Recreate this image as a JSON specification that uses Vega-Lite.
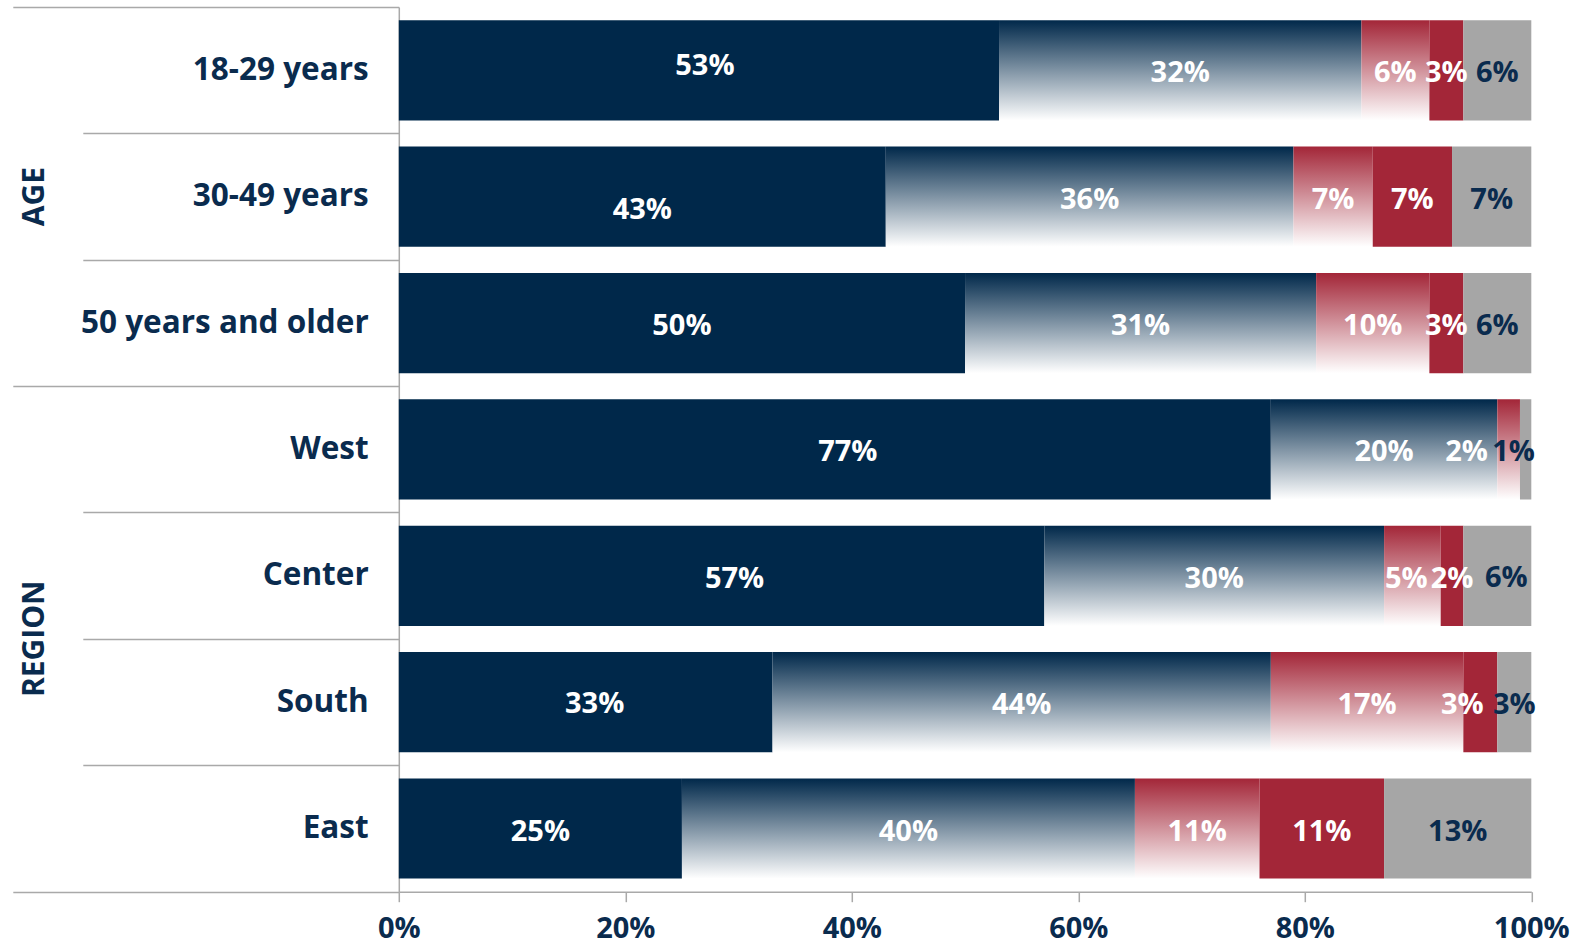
{
  "$schema": "https://vega.github.io/schema/vega-lite/v6.json",
  "width": 1132.5,
  "height": 884.6,
  "autosize": {"type": "none"},
  "padding": {"left": 398.8, "top": 7.1, "right": 55.7, "bottom": 55.3},
  "background": "white",
  "config": {"view": {"stroke": null}, "font": "Open Sans"},
  "datasets": {
    "main": [
      {"group": "18-29 years", "cat": "A", "value": 0.53},
      {"group": "18-29 years", "cat": "B", "value": 0.32},
      {"group": "18-29 years", "cat": "C", "value": 0.06},
      {"group": "18-29 years", "cat": "D", "value": 0.03},
      {"group": "18-29 years", "cat": "E", "value": 0.06},
      {"group": "30-49 years", "cat": "A", "value": 0.43},
      {"group": "30-49 years", "cat": "B", "value": 0.36},
      {"group": "30-49 years", "cat": "C", "value": 0.07},
      {"group": "30-49 years", "cat": "D", "value": 0.07},
      {"group": "30-49 years", "cat": "E", "value": 0.07},
      {"group": "50 years and older", "cat": "A", "value": 0.50},
      {"group": "50 years and older", "cat": "B", "value": 0.31},
      {"group": "50 years and older", "cat": "C", "value": 0.10},
      {"group": "50 years and older", "cat": "D", "value": 0.03},
      {"group": "50 years and older", "cat": "E", "value": 0.06},
      {"group": "West", "cat": "A", "value": 0.77},
      {"group": "West", "cat": "B", "value": 0.20},
      {"group": "West", "cat": "C", "value": 0.02},
      {"group": "West", "cat": "E", "value": 0.01},
      {"group": "Center", "cat": "A", "value": 0.57},
      {"group": "Center", "cat": "B", "value": 0.30},
      {"group": "Center", "cat": "C", "value": 0.05},
      {"group": "Center", "cat": "D", "value": 0.02},
      {"group": "Center", "cat": "E", "value": 0.06},
      {"group": "South", "cat": "A", "value": 0.33},
      {"group": "South", "cat": "B", "value": 0.44},
      {"group": "South", "cat": "C", "value": 0.17},
      {"group": "South", "cat": "D", "value": 0.03},
      {"group": "South", "cat": "E", "value": 0.03},
      {"group": "East", "cat": "A", "value": 0.25},
      {"group": "East", "cat": "B", "value": 0.40},
      {"group": "East", "cat": "C", "value": 0.11},
      {"group": "East", "cat": "D", "value": 0.11},
      {"group": "East", "cat": "E", "value": 0.13}
    ],
    "groups": [
      {"group": "30-49 years", "glabel": "AGE"},
      {"group": "Center", "glabel": "REGION"}
    ]
  },
  "data": {"name": "main"},
  "encoding": {
    "y": {
      "field": "group",
      "type": "nominal",
      "sort": null,
      "scale": {
        "domain": ["18-29 years", "30-49 years", "50 years and older", "West", "Center", "South", "East"],
        "paddingInner": 0,
        "paddingOuter": 0
      },
      "axis": {
        "title": null,
        "domainColor": "#A9A9A9",
        "domainWidth": 1.5,
        "tickBand": "extent",
        "tickColor": "#A9A9A9",
        "tickWidth": 1.5,
        "tickSize": {
          "condition": {"test": "!datum.value || datum.value == '50 years and older' || datum.value == 'East'", "value": 386},
          "value": 316
        },
        "labelPadding": {
          "condition": {"test": "!datum.value || datum.value == '50 years and older' || datum.value == 'East'", "value": -355.4},
          "value": -285.4
        },
        "labelFont": "Open Sans",
        "labelFontSize": 31.5,
        "labelFontWeight": "bold",
        "labelColor": "#0A2B4E",
        "labelLimit": 600
      }
    }
  },
  "layer": [
    {
      "mark": {"type": "bar", "height": {"band": 0.793}},
      "encoding": {
        "x": {
          "field": "value",
          "type": "quantitative",
          "stack": "zero",
          "scale": {"domain": [0, 1], "nice": false},
          "axis": {
            "title": null,
            "format": ".0%",
            "values": [0, 0.2, 0.4, 0.6, 0.8, 1],
            "grid": false,
            "domainColor": "#A9A9A9",
            "domainWidth": 1.5,
            "tickColor": "#A9A9A9",
            "tickWidth": 1.5,
            "tickSize": 10,
            "labelFont": "Open Sans",
            "labelFontSize": 29,
            "labelFontWeight": "bold",
            "labelColor": "#0A2B4E",
            "labelPadding": 13,
            "labelFlush": false,
            "labelOverlap": false
          }
        },
        "detail": {"field": "cat"},
        "order": {"field": "cat", "type": "ordinal"},
        "color": {
          "condition": [
            {"test": "datum.cat == 'A'", "value": "#00284A"},
            {"test": "datum.cat == 'B'", "value": {"gradient": "linear", "x1": 0, "y1": 0, "x2": 0, "y2": 1, "stops": [{"offset": 0, "color": "#00284A"}, {"offset": 1, "color": "#FFFFFF"}]}},
            {"test": "datum.cat == 'C'", "value": {"gradient": "linear", "x1": 0, "y1": 0, "x2": 0, "y2": 1, "stops": [{"offset": 0, "color": "#A32638"}, {"offset": 1, "color": "#FFFFFF"}]}},
            {"test": "datum.cat == 'D'", "value": "#A32638"}
          ],
          "value": "#A6A6A6"
        }
      }
    },
    {
      "mark": {"type": "text", "font": "Open Sans", "fontSize": 29, "fontWeight": "bold", "align": "center", "baseline": "middle", "dy": 3},
      "encoding": {
        "x": {"field": "value", "type": "quantitative", "stack": "zero", "bandPosition": 0.5},
        "detail": {"field": "cat"},
        "order": {"field": "cat", "type": "ordinal"},
        "text": {
          "field": "value", "type": "quantitative", "format": ".0%",
          "condition": {"test": "(datum.group == 'West' && (datum.cat == 'A' || datum.cat == 'C' || datum.cat == 'E')) || (datum.group == 'South' && (datum.cat == 'A' || datum.cat == 'D')) || (datum.group == 'Center' && (datum.cat == 'A' || datum.cat == 'C' || datum.cat == 'E')) || (datum.cat == 'A' && (datum.group == '18-29 years' || datum.group == '30-49 years'))", "value": ""}
        },
        "color": {"condition": {"test": "datum.cat == 'E'", "value": "#0A2B4E"}, "value": "#FFFFFF"}
      }
    },
    {
      "mark": {"type": "text", "font": "Open Sans", "fontSize": 29, "fontWeight": "bold", "align": "center", "baseline": "middle", "dx": -42, "dy": 3},
      "encoding": {
        "x": {"field": "value", "type": "quantitative", "stack": "zero", "bandPosition": 0.5},
        "detail": {"field": "cat"},
        "order": {"field": "cat", "type": "ordinal"},
        "text": {"field": "value", "type": "quantitative", "format": ".0%", "condition": {"test": "!(datum.group == 'West' && datum.cat == 'C')", "value": ""}},
        "color": {"value": "#FFFFFF"}
      }
    },
    {
      "mark": {"type": "text", "font": "Open Sans", "fontSize": 29, "fontWeight": "bold", "align": "center", "baseline": "middle", "dx": -12, "dy": 3},
      "encoding": {
        "x": {"field": "value", "type": "quantitative", "stack": "zero", "bandPosition": 0.5},
        "detail": {"field": "cat"},
        "order": {"field": "cat", "type": "ordinal"},
        "text": {"field": "value", "type": "quantitative", "format": ".0%", "condition": {"test": "!(datum.group == 'West' && datum.cat == 'E')", "value": ""}},
        "color": {"value": "#0A2B4E"}
      }
    },
    {
      "mark": {"type": "text", "font": "Open Sans", "fontSize": 29, "fontWeight": "bold", "align": "center", "baseline": "middle", "dx": -18, "dy": 3},
      "encoding": {
        "x": {"field": "value", "type": "quantitative", "stack": "zero", "bandPosition": 0.5},
        "detail": {"field": "cat"},
        "order": {"field": "cat", "type": "ordinal"},
        "text": {"field": "value", "type": "quantitative", "format": ".0%", "condition": {"test": "!(datum.group == 'South' && datum.cat == 'D')", "value": ""}},
        "color": {"value": "#FFFFFF"}
      }
    },
    {
      "mark": {"type": "text", "font": "Open Sans", "fontSize": 29, "fontWeight": "bold", "align": "center", "baseline": "middle", "dx": -6, "dy": 3},
      "encoding": {
        "x": {"field": "value", "type": "quantitative", "stack": "zero", "bandPosition": 0.5},
        "detail": {"field": "cat"},
        "order": {"field": "cat", "type": "ordinal"},
        "text": {"field": "value", "type": "quantitative", "format": ".0%", "condition": {"test": "!(datum.group == 'Center' && datum.cat == 'C')", "value": ""}},
        "color": {"value": "#FFFFFF"}
      }
    },
    {
      "mark": {"type": "text", "font": "Open Sans", "fontSize": 29, "fontWeight": "bold", "align": "center", "baseline": "middle", "dx": 6, "dy": -4},
      "encoding": {
        "x": {"field": "value", "type": "quantitative", "stack": "zero", "bandPosition": 0.5},
        "detail": {"field": "cat"},
        "order": {"field": "cat", "type": "ordinal"},
        "text": {"field": "value", "type": "quantitative", "format": ".0%", "condition": {"test": "!(datum.group == '18-29 years' && datum.cat == 'A')", "value": ""}},
        "color": {"value": "#FFFFFF"}
      }
    },
    {
      "mark": {"type": "text", "font": "Open Sans", "fontSize": 29, "fontWeight": "bold", "align": "center", "baseline": "middle", "dy": 13},
      "encoding": {
        "x": {"field": "value", "type": "quantitative", "stack": "zero", "bandPosition": 0.5},
        "detail": {"field": "cat"},
        "order": {"field": "cat", "type": "ordinal"},
        "text": {"field": "value", "type": "quantitative", "format": ".0%", "condition": {"test": "!(datum.group == '30-49 years' && datum.cat == 'A')", "value": ""}},
        "color": {"value": "#FFFFFF"}
      }
    },
    {
      "mark": {"type": "text", "font": "Open Sans", "fontSize": 29, "fontWeight": "bold", "align": "center", "baseline": "middle", "dx": 13, "dy": 3},
      "encoding": {
        "x": {"field": "value", "type": "quantitative", "stack": "zero", "bandPosition": 0.5},
        "detail": {"field": "cat"},
        "order": {"field": "cat", "type": "ordinal"},
        "text": {"field": "value", "type": "quantitative", "format": ".0%", "condition": {"test": "!(datum.cat == 'A' && (datum.group == 'West' || datum.group == 'Center'))", "value": ""}},
        "color": {"value": "#FFFFFF"}
      }
    },
    {
      "mark": {"type": "text", "font": "Open Sans", "fontSize": 29, "fontWeight": "bold", "align": "center", "baseline": "middle", "dx": 9, "dy": 2},
      "encoding": {
        "x": {"field": "value", "type": "quantitative", "stack": "zero", "bandPosition": 0.5},
        "detail": {"field": "cat"},
        "order": {"field": "cat", "type": "ordinal"},
        "text": {"field": "value", "type": "quantitative", "format": ".0%", "condition": {"test": "!((datum.group == 'South' && datum.cat == 'A') || (datum.group == 'Center' && datum.cat == 'E'))", "value": ""}},
        "color": {"condition": {"test": "datum.cat == 'E'", "value": "#0A2B4E"}, "value": "#FFFFFF"}
      }
    },
    {
      "data": {"name": "groups"},
      "transform": [{"filter": "datum.glabel == 'AGE'"}],
      "mark": {"type": "text", "font": "Open Sans", "fontSize": 30, "fontWeight": "bold", "align": "center", "baseline": "middle", "angle": 270, "color": "#0A2B4E"},
      "encoding": {
        "x": {"datum": -0.321, "type": "quantitative"},
        "text": {"field": "glabel"}
      }
    },
    {
      "data": {"name": "groups"},
      "transform": [{"filter": "datum.glabel == 'REGION'"}],
      "mark": {"type": "text", "font": "Open Sans", "fontSize": 30, "fontWeight": "bold", "align": "center", "baseline": "middle", "angle": 270, "dx": -63, "color": "#0A2B4E"},
      "encoding": {
        "x": {"datum": -0.321, "type": "quantitative"},
        "text": {"field": "glabel"}
      }
    }
  ]
}
